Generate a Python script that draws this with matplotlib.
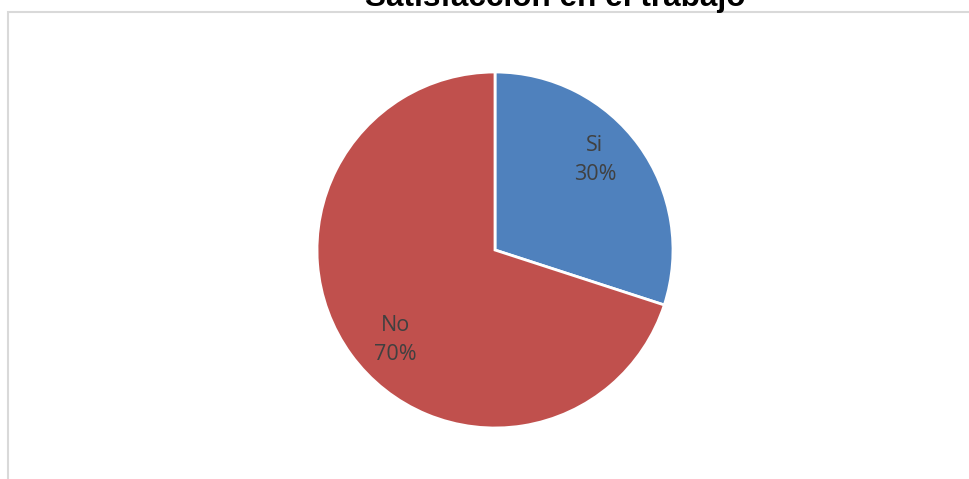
import numpy as np
import matplotlib.pyplot as plt
from matplotlib.patches import Rectangle

# satisfaction survey
etiquetas = ['Si', 'No']
valores = [30, 70]
colores = ['#4F81BD', '#C0504D']

fig = plt.figure(figsize=(9.7, 4.79), dpi=100)

# chart area border (runs off the right and bottom)
fig.patches.append(Rectangle((8 / 970, -0.1), 1.1, 1.1 - 12 / 479,
                             transform=fig.transFigure, fill=False,
                             edgecolor='#D9D9D9', linewidth=1.5))

ax = fig.add_axes([(495 - 178) / 970, (479 - 428) / 479, 356 / 970, 356 / 479])

def etiqueta(pct, it=iter(etiquetas)):
    return '%s\n%d%%' % (next(it), round(pct))

wedges, textos, pcts = ax.pie(
    valores, colors=colores, startangle=90, counterclock=False,
    autopct=etiqueta, pctdistance=0.76,
    wedgeprops=dict(edgecolor='white', linewidth=2),
    textprops=dict(color='#404040', fontsize=15.5, family='Open Sans',
                   linespacing=1.45))

# nudge labels a bit counter-clockwise from the wedge middle
for w, t in zip(wedges, pcts):
    ang = np.deg2rad((w.theta1 + w.theta2) / 2 + 6)
    t.set_position((0.755 * np.cos(ang), 0.755 * np.sin(ang)))

ax.set_xlim(-1.0, 1.0)
ax.set_ylim(-1.0, 1.0)
ax.set_aspect('equal')

fig.text(555 / 970, (479 - 6) / 479, 'Satisfacción en el trabajo',
         ha='center', va='baseline', fontsize=22.7, fontweight='bold',
         family='Liberation Sans')

fig.savefig('out.png', dpi=100)
